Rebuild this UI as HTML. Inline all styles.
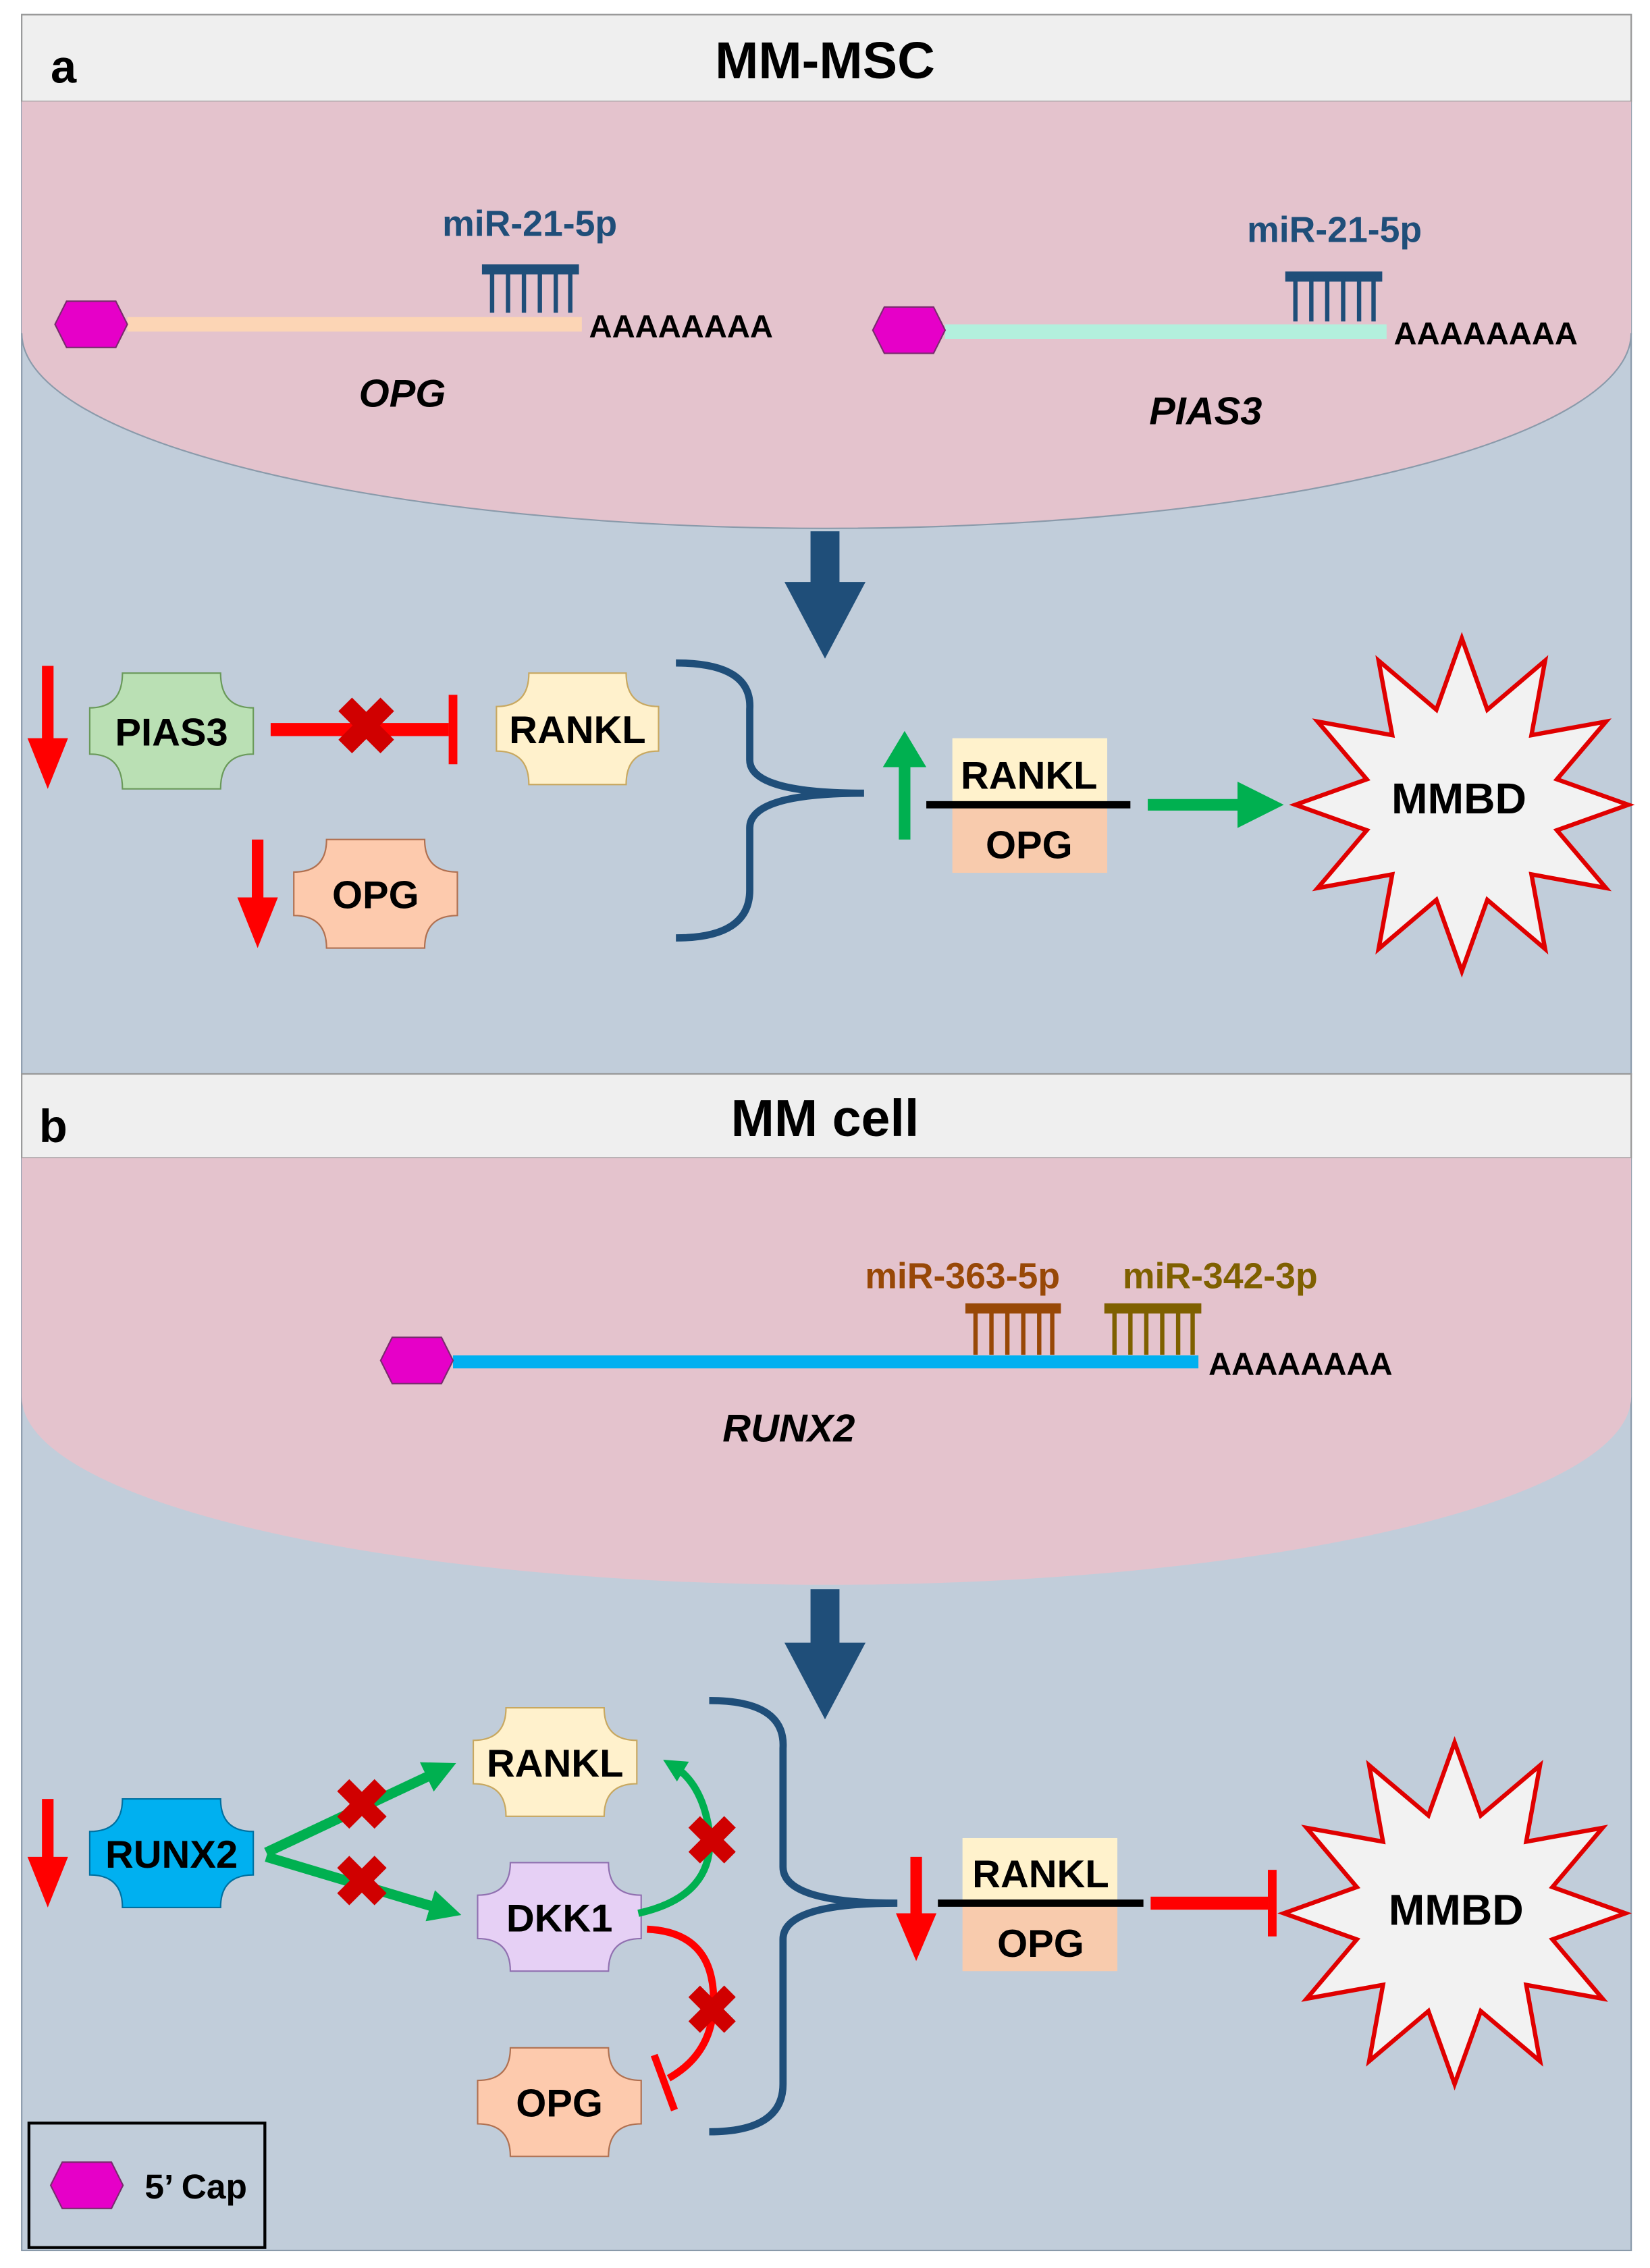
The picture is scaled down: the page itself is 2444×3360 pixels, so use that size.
<!DOCTYPE html>
<html><head><meta charset="utf-8"><style>
html,body{margin:0;padding:0;background:#fff;}
svg{display:block;}
text{font-family:"Liberation Sans",sans-serif;font-weight:bold;}
</style></head><body>
<svg id="s" width="2444" height="3360" viewBox="0 0 1140 1567" xmlns="http://www.w3.org/2000/svg">
<defs>
<marker id="ga" markerWidth="3.2" markerHeight="3.2" refX="1.6" refY="1.6" orient="auto" markerUnits="strokeWidth"><path d="M0,0 L3.2,1.6 L0,3.2 Z" fill="#00b050"/></marker>
</defs>
<!-- Panel a -->
<rect x="15" y="10" width="1112" height="732" fill="#c1cdda" stroke="#8a9aaa" stroke-width="1"/>
<rect x="15" y="10" width="1112" height="60" fill="#efefef" stroke="#999" stroke-width="1"/>
<text x="35" y="57" font-size="32">a</text>
<text x="570" y="54" font-size="36" text-anchor="middle">MM-MSC</text>
<path d="M15,70 H1127 V230 A556,135 0 0 1 15,230 Z" fill="#e4c3cd"/>
<path d="M15,230 A556,135 0 0 0 1127,230" fill="none" stroke="#8a9aaa" stroke-width="1"/>
<line x1="88" y1="224" x2="402" y2="224" stroke="#fcd5b5" stroke-width="10"/>
<polygon points="38,224 46,208 80,208 88,224 80,240 46,240" fill="#e600c8" stroke="#7a2b6e" stroke-width="1"/>
<line x1="333" y1="186" x2="400" y2="186" stroke="#1f4e79" stroke-width="7"/>
<g stroke="#1f4e79" stroke-width="3"><line x1="340" y1="186" x2="340" y2="216"/><line x1="351" y1="186" x2="351" y2="216"/><line x1="362" y1="186" x2="362" y2="216"/><line x1="373" y1="186" x2="373" y2="216"/><line x1="384" y1="186" x2="384" y2="216"/><line x1="394" y1="186" x2="394" y2="216"/></g>
<text x="366" y="163" font-size="25" fill="#1f4e79" text-anchor="middle">miR-21-5p</text>
<text x="407" y="233" font-size="22">AAAAAAAA</text>
<text x="278" y="281" font-size="27" font-style="italic" text-anchor="middle">OPG</text>
<line x1="653" y1="229" x2="958" y2="229" stroke="#b3f0dd" stroke-width="10"/>
<polygon points="603,228 611,212 645,212 653,228 645,244 611,244" fill="#e600c8" stroke="#7a2b6e" stroke-width="1"/>
<line x1="888" y1="191" x2="955" y2="191" stroke="#1f4e79" stroke-width="7"/>
<g stroke="#1f4e79" stroke-width="3"><line x1="895" y1="191" x2="895" y2="222"/><line x1="906" y1="191" x2="906" y2="222"/><line x1="917" y1="191" x2="917" y2="222"/><line x1="928" y1="191" x2="928" y2="222"/><line x1="939" y1="191" x2="939" y2="222"/><line x1="949" y1="191" x2="949" y2="222"/></g>
<text x="922" y="167" font-size="25" fill="#1f4e79" text-anchor="middle">miR-21-5p</text>
<text x="963" y="238" font-size="22">AAAAAAAA</text>
<text x="833" y="293" font-size="27" font-style="italic" text-anchor="middle">PIAS3</text>
<polygon points="560,367 580,367 580,402 598,402 570,455 542,402 560,402" fill="#1f4e79"/>
<g id="nodesA"></g>
<polygon points="29,460 37,460 37,510 47,510 33,545 19,510 29,510" fill="#ff0000"/>
<polygon points="174,580 182,580 182,620 192,620 178,655 164,620 174,620" fill="#ff0000"/>
<line x1="187" y1="504" x2="310" y2="504" stroke="#ff0000" stroke-width="9"/>
<line x1="313" y1="480" x2="313" y2="528" stroke="#ff0000" stroke-width="6"/>
<text x="253" y="521" font-size="54" fill="#d00000" text-anchor="middle">✖</text>
<path d="M467,458 Q520,458 518,490 L518,525 Q518,548 597,548 Q518,548 518,572 L518,615 Q518,648 467,648" fill="none" stroke="#1f4e79" stroke-width="5"/>
<polygon points="621,580 629,580 629,530 640,530 625,505 610,530 621,530" fill="#00b050"/>
<rect x="658" y="510" width="107" height="45" fill="#fff2cc"/>
<rect x="658" y="558" width="107" height="45" fill="#f8cbad"/>
<line x1="640" y1="556" x2="781" y2="556" stroke="#000" stroke-width="5"/>
<text x="711" y="545" font-size="27" text-anchor="middle">RANKL</text>
<text x="711" y="593" font-size="27" text-anchor="middle">OPG</text>
<polygon points="793,552 855,552 855,540 887,556 855,572 855,560 793,560" fill="#00b050"/>
<polygon id="star1" fill="#f2f2f2" stroke="#e00000" stroke-width="3"/>
<text x="1008" y="562" font-size="30" text-anchor="middle">MMBD</text>

<!-- Panel b -->
<rect x="15" y="742" width="1112" height="813" fill="#c1cdda" stroke="#8a9aaa" stroke-width="1"/>
<rect x="15" y="742" width="1112" height="58" fill="#efefef" stroke="#999" stroke-width="1"/>
<text x="27" y="789" font-size="32">b</text>
<text x="570" y="785" font-size="36" text-anchor="middle">MM cell</text>
<path d="M15,800 H1127 V965 A556,130 0 0 1 15,965 Z" fill="#e4c3cd"/>
<line x1="313" y1="941" x2="828" y2="941" stroke="#00b0f0" stroke-width="9"/>
<polygon points="263,940 271,924 305,924 313,940 305,956 271,956" fill="#e600c8" stroke="#7a2b6e" stroke-width="1"/>
<line x1="667" y1="904" x2="733" y2="904" stroke="#984807" stroke-width="7"/>
<g stroke="#984807" stroke-width="3"><line x1="674" y1="904" x2="674" y2="936"/><line x1="685" y1="904" x2="685" y2="936"/><line x1="696" y1="904" x2="696" y2="936"/><line x1="707" y1="904" x2="707" y2="936"/><line x1="718" y1="904" x2="718" y2="936"/><line x1="727" y1="904" x2="727" y2="936"/></g>
<line x1="763" y1="904" x2="830" y2="904" stroke="#7f6000" stroke-width="7"/>
<g stroke="#7f6000" stroke-width="3"><line x1="770" y1="904" x2="770" y2="936"/><line x1="781" y1="904" x2="781" y2="936"/><line x1="792" y1="904" x2="792" y2="936"/><line x1="803" y1="904" x2="803" y2="936"/><line x1="814" y1="904" x2="814" y2="936"/><line x1="824" y1="904" x2="824" y2="936"/></g>
<text x="665" y="890" font-size="25" fill="#984807" text-anchor="middle">miR-363-5p</text>
<text x="843" y="890" font-size="25" fill="#7f6000" text-anchor="middle">miR-342-3p</text>
<text x="835" y="950" font-size="22">AAAAAAAA</text>
<text x="545" y="996" font-size="27" font-style="italic" text-anchor="middle">RUNX2</text>
<polygon points="560,1098 580,1098 580,1135 598,1135 570,1188 542,1135 560,1135" fill="#1f4e79"/>
<g id="nodesB"></g>
<polygon points="29,1243 37,1243 37,1283 47,1283 33,1318 19,1283 29,1283" fill="#ff0000"/>
<line x1="184" y1="1280" x2="305" y2="1223" stroke="#00b050" stroke-width="7" marker-end="url(#ga)"/>
<line x1="184" y1="1283" x2="308" y2="1320" stroke="#00b050" stroke-width="7" marker-end="url(#ga)"/>
<text x="250" y="1264" font-size="48" fill="#d00000" text-anchor="middle">✖</text>
<text x="250" y="1317" font-size="48" fill="#d00000" text-anchor="middle">✖</text>
<path d="M441,1322 Q495,1310 490,1265 Q485,1232 465,1220" fill="none" stroke="#00b050" stroke-width="5" marker-end="url(#ga)"/>
<text x="492" y="1288" font-size="46" fill="#d00000" text-anchor="middle">✖</text>
<path d="M447,1333 Q492,1335 493,1380 Q494,1418 462,1436" fill="none" stroke="#ff0000" stroke-width="5"/>
<line x1="452" y1="1420" x2="466" y2="1458" stroke="#ff0000" stroke-width="5"/>
<text x="492" y="1405" font-size="46" fill="#d00000" text-anchor="middle">✖</text>
<path d="M490,1175 Q543,1175 541,1208 L541,1290 Q541,1315 620,1315 Q541,1315 541,1340 L541,1440 Q541,1473 490,1473" fill="none" stroke="#1f4e79" stroke-width="5"/>
<polygon points="629,1283 637,1283 637,1322 647,1322 633,1355 619,1322 629,1322" fill="#ff0000"/>
<rect x="665" y="1270" width="107" height="45" fill="#fff2cc"/>
<rect x="665" y="1317" width="107" height="45" fill="#f8cbad"/>
<line x1="648" y1="1315" x2="790" y2="1315" stroke="#000" stroke-width="5"/>
<text x="719" y="1304" font-size="27" text-anchor="middle">RANKL</text>
<text x="719" y="1352" font-size="27" text-anchor="middle">OPG</text>
<line x1="795" y1="1315" x2="876" y2="1315" stroke="#ff0000" stroke-width="9"/>
<line x1="879" y1="1292" x2="879" y2="1338" stroke="#ff0000" stroke-width="6"/>
<polygon id="star2" fill="#f2f2f2" stroke="#e00000" stroke-width="3"/>
<text x="1006" y="1330" font-size="30" text-anchor="middle">MMBD</text>
<rect x="20" y="1467" width="163" height="86" fill="#c1cdda" stroke="#000" stroke-width="2"/>
<polygon points="35,1510 43,1494 77,1494 85,1510 77,1526 43,1526" fill="#e600c8" stroke="#7a2b6e" stroke-width="1"/>
<text x="100" y="1519" font-size="24">5’ Cap</text>
</svg>
<script>
function node(g,x,y,w,h,fill,stroke,label){
 var cx=w*0.2,cy=h*0.3;
 var d="M"+(x+cx)+","+y+" H"+(x+w-cx)+" Q"+(x+w-cx)+","+(y+cy)+" "+(x+w)+","+(y+cy)+" V"+(y+h-cy)+" Q"+(x+w-cx)+","+(y+h-cy)+" "+(x+w-cx)+","+(y+h)+" H"+(x+cx)+" Q"+(x+cx)+","+(y+h-cy)+" "+x+","+(y+h-cy)+" V"+(y+cy)+" Q"+(x+cx)+","+(y+cy)+" "+(x+cx)+","+y+" Z";
 var ns="http://www.w3.org/2000/svg";
 var p=document.createElementNS(ns,"path");p.setAttribute("d",d);p.setAttribute("fill",fill);p.setAttribute("stroke",stroke);p.setAttribute("stroke-width","1");g.appendChild(p);
 var t=document.createElementNS(ns,"text");t.setAttribute("x",x+w/2);t.setAttribute("y",y+h/2+10);t.setAttribute("font-size","27");t.setAttribute("text-anchor","middle");t.textContent=label;g.appendChild(t);
}
var A=document.getElementById("nodesA"),B=document.getElementById("nodesB");
node(A,62,465,113,80,"#bae0b4","#6a9a5a","PIAS3");
node(A,343,465,112,77,"#fff1cc","#c8a860","RANKL");
node(A,203,580,113,75,"#fdcaad","#b07050","OPG");
node(B,62,1243,113,75,"#00b0f0","#0070a0","RUNX2");
node(B,327,1180,113,75,"#fff1cc","#c8a860","RANKL");
node(B,330,1287,113,75,"#e6d0f5","#9070b0","DKK1");
node(B,330,1415,113,75,"#fdcaad","#b07050","OPG");
function star(id,cx,cy,R,r,n){
 var pts=[];for(var i=0;i<2*n;i++){var a=-Math.PI/2+i*Math.PI/n;var rr=(i%2==0)?R:r;pts.push((cx+rr*Math.cos(a)).toFixed(1)+","+(cy+rr*Math.sin(a)).toFixed(1));}
 document.getElementById(id).setAttribute("points",pts.join(" "));
}
star("star1",1010,556,115,68,12);
star("star2",1005,1322,118,70,12);
</script>
</body></html>
